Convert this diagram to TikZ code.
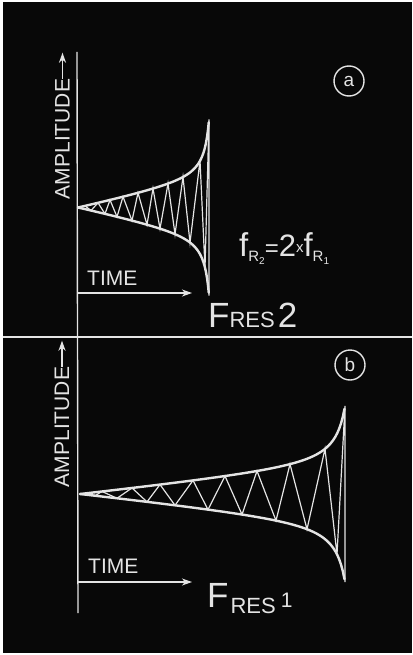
\documentclass[tikz,border=0pt]{standalone}
\usepackage{fontspec}
\setmainfont{Liberation Sans}
\usetikzlibrary{arrows.meta,positioning}
\definecolor{chalk}{HTML}{E4E4E4}
\definecolor{slate}{HTML}{080808}
\newcommand{\lettersize}[1]{\fontsize{#1bp}{#1bp}\selectfont}
\pgfmathdeclarefunction{resgrow}{1}{\pgfmathparse{28*#1+2.5*(1/(1.04-#1)-1/1.04)}}
\tikzset{
 res axis/.style={draw=chalk,line width=1.4bp},
 res envelope/.style={draw=chalk,line width=2.4bp,line join=round,line cap=round},
 res wave/.style={draw=chalk,line width=1.2bp,line join=miter},
 res arrow/.style={-{Stealth[length=10bp,width=7bp,inset=3bp]},draw=chalk,line width=1.3bp},
 res label/.style={text=chalk,inner sep=0pt},
 res mark/.style={circle,draw=chalk,line width=1.4bp,minimum size=30bp,inner sep=0pt,text=chalk}
}

\begin{document}
\begin{tikzpicture}[x=1bp,y=-1bp]
\useasboundingbox (0,0) rectangle (412,655);
\fill[white] (0,0) rectangle (412,655);
\fill[slate] (3,2) rectangle (412,653);
% axes and divider
\coordinate (axis top) at (77,52);
\coordinate (axis foot) at (78,613);
\draw[res axis] (axis top) -- (axis foot);
\draw[res axis] (3,337) -- (412,337);
% panel a
\node[res label,rotate=90] (a amp) at (62.5,139) {\lettersize{21}AMPLITUDE};
\draw[res arrow] (a amp.east) -- ++(0,-26);
\node[res label,anchor=base west] (a time) at (87,285) {\lettersize{21}TIME};
\coordinate (a origin) at (77,293);
\coordinate (a time end) at (192,293);
\draw[res arrow] (a origin) -- (a time end);
\node[res mark] (a mark) at (349,81) {\lettersize{19}a};
\draw[res envelope] plot[domain=0:1,samples=150] ({78+131*\x},{207.5-resgrow(\x)});
\draw[res envelope] plot[domain=0:1,samples=150] ({78+131*\x},{207.5+resgrow(\x)});
\draw[res wave] (78,207.5)
 \foreach \px/\sg in {85/-1,91/1,98/-1,105/1,110/-1,117/1,123/-1,132/1,138/-1,147/1,
   153/-1,160/1,168/-1,175/1,183/-1,190/1,200/-1,205/1,209/-1,209/1}
 {-- ({\px},{207.5+\sg*resgrow((\px-78)/131)})};
\node[res label,anchor=base west] (a ratio) at (239,256)
 {\lettersize{33}f\raisebox{-5bp}{\lettersize{15}R\raisebox{-3bp}{\lettersize{10}2}}\lettersize{24}=\lettersize{31}2\raisebox{4bp}{\lettersize{15}x}\lettersize{33}f\raisebox{-5bp}{\lettersize{15}R\raisebox{-3bp}{\lettersize{10}1}}};
\node[res label,anchor=base west] (a freq) at (208,327)
 {\lettersize{35}F\lettersize{22}RES\hspace{3bp}\lettersize{35}2};
% panel b
\node[res label,rotate=90] (b amp) at (62,427) {\lettersize{21}AMPLITUDE};
\draw[res arrow] (b amp.east) -- ++(0,-26);
\node[res label,anchor=base west] (b time) at (88,573) {\lettersize{21}TIME};
\coordinate (b origin) at (78,582);
\coordinate (b time end) at (192,582);
\draw[res arrow] (b origin) -- (b time end);
\node[res mark] (b mark) at (350,365) {\lettersize{19}b};
\draw[res envelope] plot[domain=0:1,samples=150] ({80+265*\x},{494-resgrow(\x)});
\draw[res envelope] plot[domain=0:1,samples=150] ({80+265*\x},{494+resgrow(\x)});
\draw[res wave] (80,494)
 \foreach \px/\sg in {88/-1,95/1,102/-1,117/1,132/-1,147/1,160/-1,175/1,193/-1,208/1,
   225/-1,242/1,257/-1,276/1,290/-1,307/1,325/-1,337/1,345/-1,345/1}
 {-- ({\px},{494+\sg*resgrow((\px-80)/265)})};
\node[res label,anchor=base west] (b freq) at (207,607)
 {\lettersize{35}F\hspace{2bp}\raisebox{-6bp}{\lettersize{22}RES}\hspace{5bp}\lettersize{21}1};
\end{tikzpicture}
\end{document}
